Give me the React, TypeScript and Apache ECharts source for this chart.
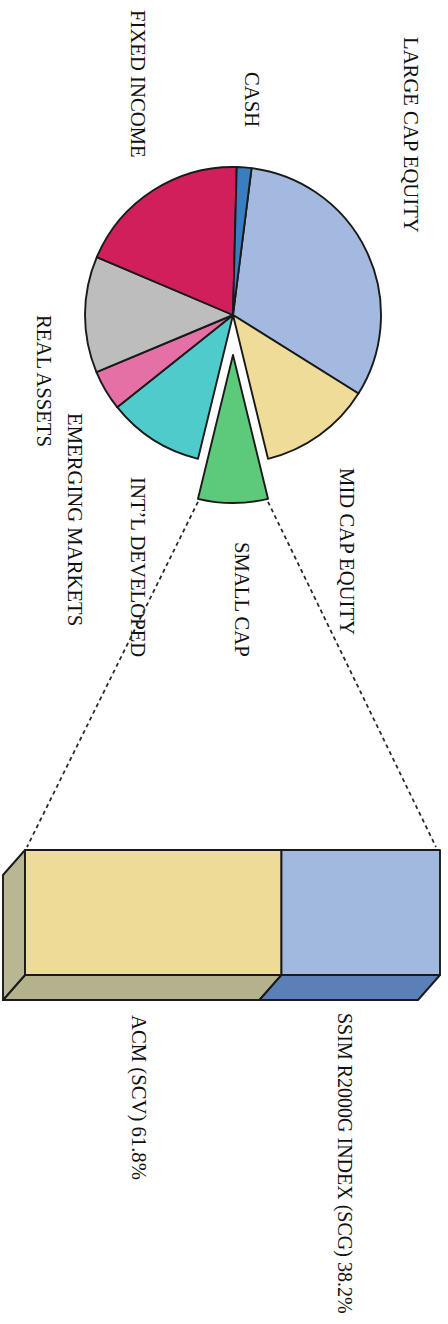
import React, { useEffect, useRef } from "react";
import * as echarts from "echarts";

// ---- data ----
const pieNames = [
  "LARGE CAP EQUITY",
  "MID CAP EQUITY",
  "SMALL CAP",
  "INT\u2019L DEVELOPED",
  "REAL ASSETS",
  "EMERGING MARKETS",
  "FIXED INCOME",
  "CASH",
];
const pieValues = [31.9, 12.3, 7.6, 10.5, 4.4, 12.7, 19.0, 1.6];
const explodedIndex = 2;

const barNames = ["ACM (SCV)", "SSIM R2000G INDEX (SCG)"];
const barValues = [61.8, 38.2];

// ---- styles / layout ----
const pieColors = ["#a3b9df", "#efdc98", "#5dc97b", "#50cbcb", "#e570a6", "#bdbdbd", "#d01f5b", "#3a7ec0"];
const barFront = ["#eedb98", "#a2b9df"];
const barBottom = ["#b4b18d", "#5b80b8"];
const barLeft = "#b9b694";
const ink = "#1a1a1a";
const FONT = '"Liberation Serif", "Times New Roman", serif';

const PIE_CENTER = [233, 315];
const PIE_R = 148;
const PIE_START = 82.8;
const PIE_OFFSET = 40;
const DEPTH_X = 22;
const DEPTH_Y = 25;

const pieLabelPos = [
  [411, 37],
  [347, 468],
  [242, 542],
  [138, 477],
  [44, 315],
  [75, 413],
  [138, 10],
  [252, 72],
];
const barLabelPos = [
  [139, 1015],
  [345, 1013],
];
const barLabelSize = [20.7, 20.0];

function rotText(text: string, x: number, y: number, size = 20.7) {
  return {
    type: "text",
    x,
    y,
    rotation: -Math.PI / 2,
    silent: true,
    style: {
      text,
      fontSize: size,
      fontFamily: FONT,
      fill: "#111111",
      align: "left",
      verticalAlign: "middle",
      textAlign: "left",
      textVerticalAlign: "middle",
    },
  };
}

export default function App() {
  const ref = useRef<HTMLDivElement>(null);

  useEffect(() => {
    document.body.style.margin = "0";
    const chart = echarts.init(ref.current!, null, { renderer: "svg" });

    const barSegs = barValues.map((v, i) => {
      const start = barValues.slice(0, i).reduce((a, b) => a + b, 0);
      return [start, start + v, i];
    });

    const texts: any[] = [];
    pieNames.forEach((n, i) => texts.push(rotText(n, pieLabelPos[i][0], pieLabelPos[i][1])));
    barNames.forEach((n, i) =>
      texts.push(
        rotText(`${n} ${barValues[i].toFixed(1)}%`, barLabelPos[i][0], barLabelPos[i][1], barLabelSize[i])
      )
    );

    chart.setOption({
      animation: false,
      backgroundColor: "#ffffff",
      grid: { left: 25, top: 850, width: 415, height: 125, containLabel: false },
      xAxis: { type: "value", min: 0, max: 100, show: false },
      yAxis: { type: "value", min: 0, max: 1, show: false },
      series: [
        {
          type: "pie",
          center: PIE_CENTER,
          radius: PIE_R,
          startAngle: PIE_START,
          clockwise: true,
          selectedMode: "single",
          selectedOffset: PIE_OFFSET,
          label: { show: false },
          labelLine: { show: false },
          emphasis: { disabled: true },
          itemStyle: { borderColor: ink, borderWidth: 1.9 },
          select: { itemStyle: { borderColor: ink, borderWidth: 1.9 } },
          data: pieNames.map((n, i) => ({
            name: n,
            value: pieValues[i],
            selected: i === explodedIndex,
            itemStyle: { color: pieColors[i] },
            select: { itemStyle: { color: pieColors[i] } },
          })),
        },
        {
          type: "custom",
          silent: true,
          data: barSegs,
          renderItem: (params: any, api: any) => {
            const s = api.value(0);
            const e = api.value(1);
            const idx = api.value(2);
            const tl = api.coord([s, 1]);
            const br = api.coord([e, 0]);
            const stroke = { stroke: ink, lineWidth: 1.9, lineJoin: "round" };
            const children: any[] = [
              {
                type: "polygon",
                shape: {
                  points: [
                    [tl[0], br[1]],
                    [br[0], br[1]],
                    [br[0] - DEPTH_X, br[1] + DEPTH_Y],
                    [tl[0] - DEPTH_X, br[1] + DEPTH_Y],
                  ],
                },
                style: { fill: barBottom[idx], ...stroke },
              },
            ];
            if (idx === 0) {
              children.push({
                type: "polygon",
                shape: {
                  points: [
                    [tl[0], tl[1]],
                    [tl[0], br[1]],
                    [tl[0] - DEPTH_X, br[1] + DEPTH_Y],
                    [tl[0] - DEPTH_X, tl[1] + DEPTH_Y],
                  ],
                },
                style: { fill: barLeft, ...stroke },
              });
            }
            children.push({
              type: "rect",
              shape: { x: tl[0], y: tl[1], width: br[0] - tl[0], height: br[1] - tl[1] },
              style: { fill: barFront[idx], ...stroke },
            });
            return { type: "group", children };
          },
        },
      ],
      graphic: { elements: texts },
    });

    // connector lines from exploded slice to the bar
    const total = pieValues.reduce((a, b) => a + b, 0);
    const before = pieValues.slice(0, explodedIndex).reduce((a, b) => a + b, 0);
    const a0 = ((PIE_START - (360 * before) / total) * Math.PI) / 180;
    const a1 = ((PIE_START - (360 * (before + pieValues[explodedIndex])) / total) * Math.PI) / 180;
    const mid = (a0 + a1) / 2;
    const ox = PIE_CENTER[0] + PIE_OFFSET * Math.cos(mid);
    const oy = PIE_CENTER[1] - PIE_OFFSET * Math.sin(mid);
    const pA = [ox + PIE_R * Math.cos(a0), oy - PIE_R * Math.sin(a0)];
    const pB = [ox + PIE_R * Math.cos(a1), oy - PIE_R * Math.sin(a1)];
    const barTL = chart.convertToPixel({ gridIndex: 0 }, [0, 1]) as number[];
    const barTR = chart.convertToPixel({ gridIndex: 0 }, [100, 1]) as number[];
    const leftPt = pA[0] < pB[0] ? pA : pB;
    const rightPt = pA[0] < pB[0] ? pB : pA;
    const dash = { stroke: "#2a2a2a", lineWidth: 1.8, lineDash: [4, 3.5] };
    chart.setOption({
      graphic: {
        elements: [
          ...texts,
          {
            type: "line",
            silent: true,
            shape: { x1: leftPt[0], y1: leftPt[1] + 3, x2: barTL[0] + 2, y2: barTL[1] - 3 },
            style: dash,
          },
          {
            type: "line",
            silent: true,
            shape: { x1: rightPt[0], y1: rightPt[1] + 3, x2: barTR[0] - 4, y2: barTR[1] - 3 },
            style: dash,
          },
        ],
      },
    });

    return () => chart.dispose();
  }, []);

  return <div ref={ref} style={{ width: 448, height: 1324 }} />;
}
